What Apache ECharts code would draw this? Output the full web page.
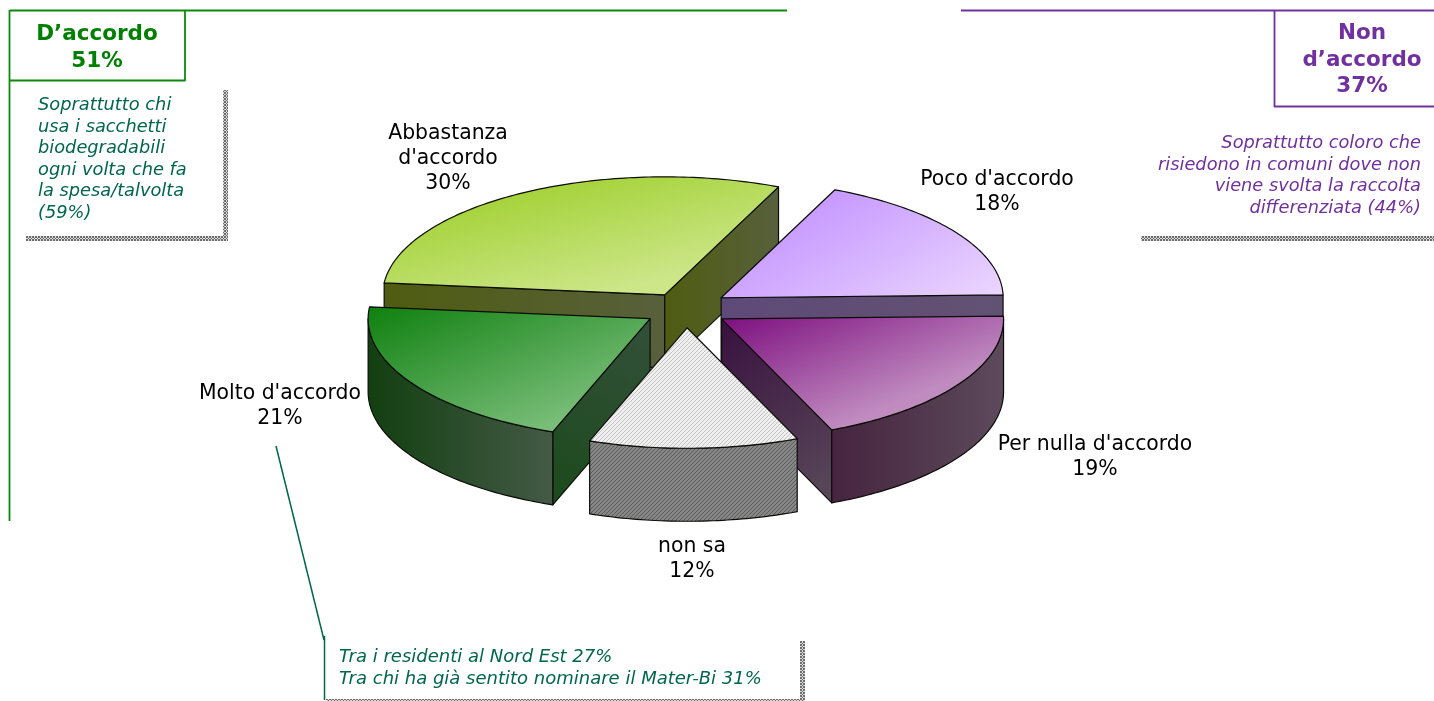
<!DOCTYPE html>
<html>
<head>
<meta charset="utf-8">
<title>D'accordo / Non d'accordo</title>
<script src="https://cdn.jsdelivr.net/npm/echarts@6/dist/echarts.min.js"></script>
<style>
  html, body { margin: 0; padding: 0; background: #fff; }
  #main { width: 1434px; height: 701px; }
</style>
</head>
<body>
<div id="main"></div>
<script>
// dati: fette in senso orario, a partire dal bordo destro
var categories = ['Per nulla d\'accordo', 'non sa', 'Molto d\'accordo', 'Abbastanza\nd\'accordo', 'Poco d\'accordo'];
var values = [19, 12, 21, 30, 18];

var boxLeft = 'D\u2019accordo\n51%';
var boxRight = 'Non\nd\u2019accordo\n37%';
var noteLeft = 'Soprattutto chi\nusa i sacchetti\nbiodegradabili\nogni volta che fa\nla spesa/talvolta\n(59%)';
var noteRight = 'Soprattutto coloro che\nrisiedono in comuni dove non\nviene svolta la raccolta\ndifferenziata (44%)';
var noteBottom = 'Tra i residenti al Nord Est 27%\nTra chi ha gi\u00e0 sentito nominare il Mater-Bi 31%';

// geometria della torta
var pie = { cx: 686, cy: 308.5, rx: 282, ryBack: 118, ryFront: 120.5, depth: 73, explodeX: 0.15, explodeY: 0.16, startDeg: 1.4 };
var nudgeY = [0, 0, 0, 3, 0];       // piccola correzione dell'esplosione
var paintOrder = [3, 4, 2, 0, 1];   // ordine di disegno di ogni fetta (dietro -> davanti)
var labelPos = [[1095, 432], [692, 534], [280, 381], [448, 121], [997, 167]];

var GREEN = '#0b8a0b', PURPLE = '#7030a0', TEAL = '#00664f';
var FONT = '"DejaVu Sans", Verdana, sans-serif';

function makePattern(size, paint) {
  var c = document.createElement('canvas');
  c.width = c.height = size;
  paint(c.getContext('2d'));
  return { image: c, repeat: 'repeat' };
}
function diagonal(bg, fg) {
  return makePattern(4, function (g) {
    g.fillStyle = bg; g.fillRect(0, 0, 4, 4);
    g.fillStyle = fg;
    for (var i = 0; i < 4; i++) g.fillRect(i, 3 - i, 1, 1);
  });
}
function checker() {
  return makePattern(3, function (g) {
    g.fillStyle = '#d8d8d8'; g.fillRect(0, 0, 3, 3);
    g.fillStyle = '#6e6e6e';
    g.fillRect(0, 0, 1, 1); g.fillRect(2, 0, 1, 1); g.fillRect(1, 1, 1, 1); g.fillRect(0, 2, 1, 1); g.fillRect(2, 2, 1, 1);
  });
}
function grad(x, y, x2, y2, c0, c1) {
  return new echarts.graphic.LinearGradient(x, y, x2, y2, [{ offset: 0, color: c0 }, { offset: 1, color: c1 }]);
}
// gradiente in pixel di pagina
function gradPx(x, y, x2, y2, c0, c1) {
  return new echarts.graphic.LinearGradient(x, y, x2, y2, [{ offset: 0, color: c0 }, { offset: 1, color: c1 }], true);
}

var sliceStyle = [
  { top: gradPx(722, 319, 778, 453, '#7e1080', '#c08cc0'), side: grad(0, 0, 1, 1, '#38103f', '#5a4a5a'), outer: grad(0, 0, 1, 0, '#46243f', '#5c4a5b') },
  { top: diagonal('#f0f0f0', '#c0c0c0'), side: '#777', outer: diagonal('#868686', '#5c5c5c') },
  { top: gradPx(368, 307, 441, 478, '#0f800f', '#7cbf7c'), side: grad(0, 1, 1, 0, '#1c4a1c', '#33503a'), outer: grad(0, 0, 1, 0, '#123f10', '#445a46') },
  { top: gradPx(540, 170, 570, 300, '#a0d030', '#cce688'), side: grad(0, 0, 1, 0, '#4f5c10', '#57603c'), outer: '#4f5c10' },
  { top: gradPx(836, 191, 923, 341, '#c79aff', '#ebd6ff'), side: grad(0, 0, 1, 0, '#5e4a78', '#625272'), outer: '#5f4d75' }
];

// angoli di ogni fetta calcolati dai valori
var total = values.reduce(function (a, b) { return a + b; }, 0);
var angles = [];
var acc = pie.startDeg;
values.forEach(function (v) {
  var end = acc - v / total * 360;
  angles.push([acc, end]);
  acc = end;
});

function pt(o, deg, dy) {
  var r = deg * Math.PI / 180, s = Math.sin(r);
  return [o[0] + pie.rx * Math.cos(r), o[1] - (s > 0 ? pie.ryBack : pie.ryFront) * s + (dy || 0)];
}
function arc(o, a0, a1, dy) {
  var pts = [], n = Math.max(2, Math.ceil(Math.abs(a1 - a0)));
  for (var i = 0; i <= n; i++) pts.push(pt(o, a0 + (a1 - a0) * i / n, dy));
  return pts;
}
function poly(points, fill, z2) {
  return { type: 'polygon', z2: z2, shape: { points: points }, style: { fill: fill, stroke: '#0c0c08', lineWidth: 1.2, lineJoin: 'round' } };
}

function renderSlice(params, api) {
  var i = params.dataIndex;
  var a0 = angles[i][0], a1 = angles[i][1];
  var mid = (a0 + a1) / 2 * Math.PI / 180;
  var o = [
    pie.cx + pie.explodeX * pie.rx * Math.cos(mid),
    pie.cy - pie.explodeY * pie.ryFront * Math.sin(mid) + nudgeY[i]
  ];
  var base = paintOrder[i] * 10;
  var st = sliceStyle[i];
  var h = pie.depth;
  var kids = [];
  function wall(a) {
    var p = pt(o, a);
    kids.push(poly([o, p, [p[0], p[1] + h], [o[0], o[1] + h]], st.side, base + 1));
  }
  // pareti interne: solo quelle rivolte verso chi guarda
  if (Math.cos(a0 * Math.PI / 180) < 0) wall(a0);
  if (Math.cos(a1 * Math.PI / 180) > 0) wall(a1);
  // parete esterna, solo la parte che guarda l'osservatore
  var hi = Math.min(a0, 0), lo = Math.max(a1, -180);
  if (lo < hi) {
    var upper = arc(o, hi, lo, 0);
    var lower = arc(o, lo, hi, h);
    kids.push(poly(upper.concat(lower), st.outer, base + 2));
  }
  // faccia superiore
  kids.push(poly([o].concat(arc(o, a0, a1, 0)), st.top, base + 3));
  // etichetta
  kids.push({
    type: 'text', z2: 100,
    style: {
      x: labelPos[i][0], y: labelPos[i][1],
      text: categories[i] + '\n' + api.value(0) + '%',
      font: '20.4px ' + FONT, fill: '#000', align: 'center', verticalAlign: 'top', lineHeight: 25
    }
  });
  return { type: 'group', children: kids };
}

function line(x1, y1, x2, y2, color, w) {
  return { type: 'line', shape: { x1: x1, y1: y1, x2: x2, y2: y2 }, style: { stroke: color, lineWidth: w } };
}
function hatch(x, y, w, h) {
  return { type: 'rect', shape: { x: x, y: y, width: w, height: h }, style: { fill: checker() } };
}
function text(x, y, str, font, color, align, lh) {
  return { type: 'text', style: { x: x, y: y, text: str, font: font, fill: color, align: align, verticalAlign: 'top', lineHeight: lh } };
}

var myChart = echarts.init(document.getElementById('main'), null, { renderer: 'canvas' });
var option = {
  animation: false,
  backgroundColor: '#fff',
  graphic: { elements: [
    // cornice verde
    line(10, 10.5, 787, 10.5, GREEN, 1.8),
    line(9.5, 10, 9.5, 521, GREEN, 1.8),
    line(185, 10, 185, 80.5, GREEN, 1.8),
    line(9.5, 80.5, 185.5, 80.5, GREEN, 1.8),
    // cornice viola
    line(961, 10.5, 1434, 10.5, PURPLE, 1.8),
    line(1274.5, 10, 1274.5, 107, PURPLE, 1.8),
    line(1274, 106.5, 1434, 106.5, PURPLE, 1.8),
    // richiamo verso il riquadro in basso
    line(276, 446, 324, 640, TEAL, 1.5),
    line(324.5, 636, 324.5, 700, TEAL, 1.5),
    // bordi retinati dei riquadri
    hatch(223, 90, 5, 151),
    hatch(26, 236, 202, 5),
    hatch(1141, 236, 293, 5),
    hatch(800, 641, 5, 60),
    hatch(326, 699, 478, 2),
    text(97, 21, boxLeft, 'bold 21.5px ' + FONT, '#008000', 'center', 27),
    text(1362, 20.5, boxRight, 'bold 21.5px ' + FONT, PURPLE, 'center', 26.5),
    text(38, 95, noteLeft, 'italic 17.8px ' + FONT, TEAL, 'left', 21.5),
    text(1421, 133, noteRight, 'italic 17.8px ' + FONT, PURPLE, 'right', 21.4),
    text(339, 646, noteBottom, 'italic 18px ' + FONT, TEAL, 'left', 22.5)
  ] },
  series: [{
    type: 'custom',
    coordinateSystem: 'none',
    renderItem: renderSlice,
    silent: true,
    data: values.map(function (v) { return [v]; })
  }]
};
myChart.setOption(option);
</script>
</body>
</html>
